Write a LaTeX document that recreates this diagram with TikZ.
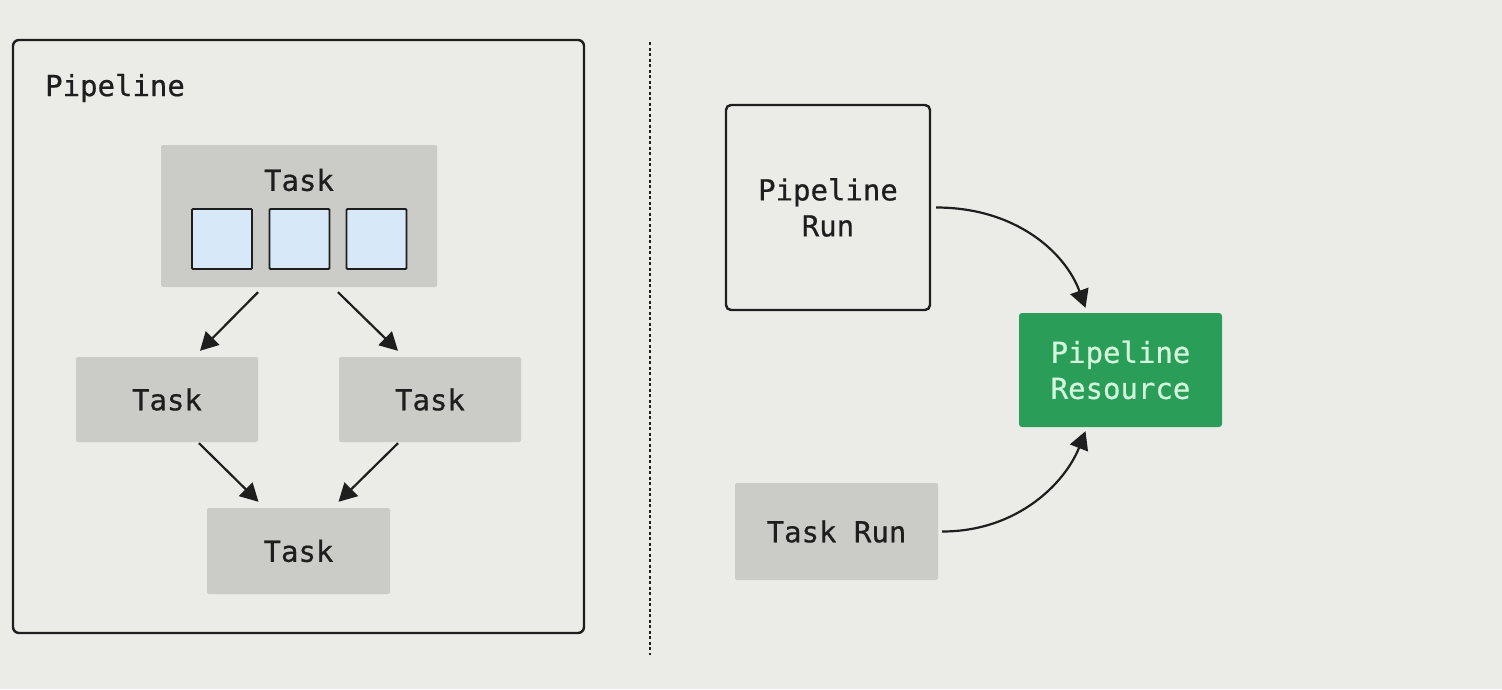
\documentclass[tikz,border=0pt]{standalone}
\usepackage{fontspec}
\setmainfont[FakeBold=0.6]{DejaVu Sans Mono}
\usetikzlibrary{arrows.meta,calc}
\definecolor{bg}{HTML}{EBECE8}
\definecolor{taskgray}{HTML}{CBCBC7}
\definecolor{cellblue}{HTML}{D7E8F8}
\definecolor{inkc}{HTML}{1E1E1E}
\definecolor{resgreen}{HTML}{2A9E58}
\definecolor{restext}{HTML}{D2F6DC}
\tikzset{
  txt/.style={font=\fontsize{29}{36}\selectfont, text=inkc, align=center, inner sep=0pt},
  taskbox/.style={fill=taskgray, draw=none, rounded corners=2pt, inner sep=0pt},
  cell/.style={fill=cellblue, draw=inkc, line width=1.8pt, minimum width=60pt, minimum height=60pt, inner sep=0pt, rounded corners=1pt},
  frame/.style={draw=inkc, line width=2.4pt, rounded corners=6pt},
  arr/.style={draw=inkc, line width=2.2pt, -{Triangle[length=18pt,width=19pt]}},
}
\begin{document}
\begin{tikzpicture}[x=1pt,y=-1pt]
\fill[bg] (0,0) rectangle (1502,689);
\useasboundingbox (0,0) rectangle (1502,689);
% left pipeline frame
\node[frame, minimum width=571pt, minimum height=593pt, inner sep=0pt] (pipe) at (298.5,336.5) {};
\node[txt, anchor=west] (pipelbl) at (45,88) {Pipeline};
% top task
\node[taskbox, minimum width=276pt, minimum height=142pt] (t1) at (299,216) {};
\node[txt] (t1lbl) at (299,180) {Task};
\node[cell] (c1) at (222,239) {};
\node[cell] (c2) at (299.5,239) {};
\node[cell] (c3) at (376.5,239) {};
% middle tasks
\node[taskbox, minimum width=182pt, minimum height=85pt, txt] (t2) at (167,399.5) {Task};
\node[taskbox, minimum width=182pt, minimum height=85pt, txt] (t3) at (430,399.5) {Task};
\node[taskbox, minimum width=183pt, minimum height=86pt, txt] (t4) at (298.5,551) {Task};
% arrows
\draw[arr] ($(t1.south)+(-41,5)$) -- ($(t2.north)+(33,-6)$);
\draw[arr] ($(t1.south)+(39,5)$) -- ($(t3.north)+(-32,-6)$);
\draw[arr] ($(t2.south)+(32,1)$) -- ($(t4.north)+(-40,-6)$);
\draw[arr] ($(t3.south)+(-32,1)$) -- ($(t4.north)+(40,-6)$);
% divider
\coordinate (d1) at (650,42);
\coordinate (d2) at (650,655);
\draw[inkc, line width=2pt, dash pattern=on 3pt off 2.5pt] (d1) -- (d2);
% right side
\node[draw=inkc, line width=2.4pt, rounded corners=5pt, minimum width=204pt, minimum height=205pt, inner sep=0pt, txt] (prun) at (828,207.5) {Pipeline\\Run};
\node[fill=resgreen, rounded corners=3pt, minimum width=203pt, minimum height=114pt, inner sep=0pt, txt, text=restext] (res) at (1120.5,370) {Pipeline\\Resource};
\node[taskbox, minimum width=203pt, minimum height=97pt, txt] (trun) at (836.5,531.5) {Task Run};
\draw[arr] ($(prun.east)+(5,0)$) .. controls ($(prun.east)+(85,0)$) and ($(res.north)+(-55,-60)$) .. ($(res.north)+(-35,-5)$);
\draw[arr] ($(trun.east)+(4,0)$) .. controls ($(trun.east)+(80,0)$) and ($(res.south)+(-55,55)$) .. ($(res.south)+(-35,4)$);
\end{tikzpicture}
\end{document}
